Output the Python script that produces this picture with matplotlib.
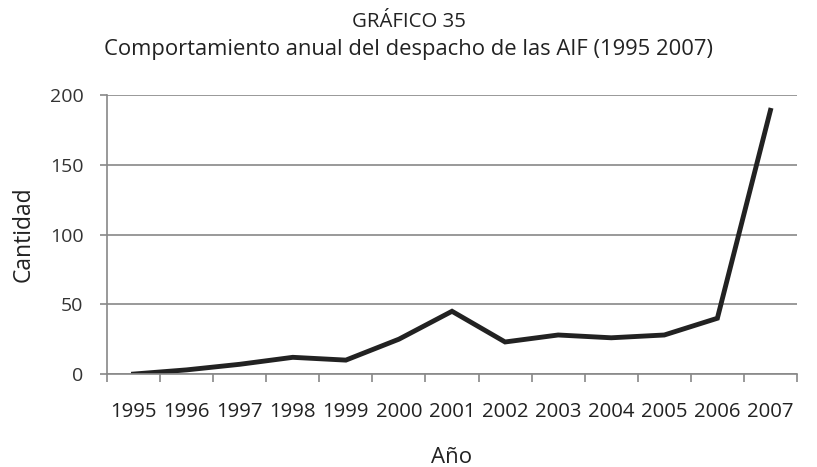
import matplotlib
matplotlib.use("Agg")
import matplotlib.pyplot as plt
import numpy as np

plt.rcParams['font.family'] = ['Open Sans', 'DejaVu Sans']

# data
years = ['1995', '1996', '1997', '1998', '1999', '2000', '2001',
         '2002', '2003', '2004', '2005', '2006', '2007']
cantidad = [0, 3, 7, 12, 10, 25, 45, 23, 28, 26, 28, 40, 189]

fig = plt.figure(figsize=(8.17, 4.67), dpi=100)
ax = fig.add_axes([0.131, 0.199, 0.8445, 0.5976])

x = np.arange(len(years))
ax.plot(x, cantidad, color='#222222', linewidth=3.5, solid_joinstyle='miter')

ax.set_xlim(-0.5, len(years) - 0.5)
ax.set_ylim(0, 200)
ax.set_yticks([0, 50, 100, 150, 200])
ax.yaxis.grid(True, color='#888888', linewidth=1.2)
ax.set_axisbelow(True)

# category labels centered, tick marks on the category boundaries
ax.set_xticks(x)
ax.set_xticklabels(years)
ax.set_xticks(np.arange(-0.5, len(years)), minor=True)
ax.tick_params(axis='x', which='major', length=0, pad=20, labelsize=14.7, colors='#222222')
ax.tick_params(axis='x', which='minor', length=6, color='#888888', width=1.2)
ax.tick_params(axis='y', length=5, color='#888888', width=1.2, labelsize=14,
               labelcolor='#333333', pad=12)

for side in ['top', 'right']:
    ax.spines[side].set_visible(False)
ax.spines['left'].set_color('#888888')
ax.spines['bottom'].set_color('#888888')
ax.spines['left'].set_linewidth(1.2)
ax.spines['bottom'].set_linewidth(1.2)

ax.set_ylabel('Cantidad', fontsize=16.5, color='#222222', labelpad=10)
ax.set_xlabel('Año', fontsize=16, color='#222222', labelpad=18)

fig.text(0.5, 0.952, 'GRÁFICO 35', ha='center', va='center', fontsize=14.7, color='#222222')
fig.text(0.5, 0.895, 'Comportamiento anual del despacho de las AIF (1995 2007)',
         ha='center', va='center', fontsize=15.8, color='#222222')

fig.savefig('out.png', dpi=100)
